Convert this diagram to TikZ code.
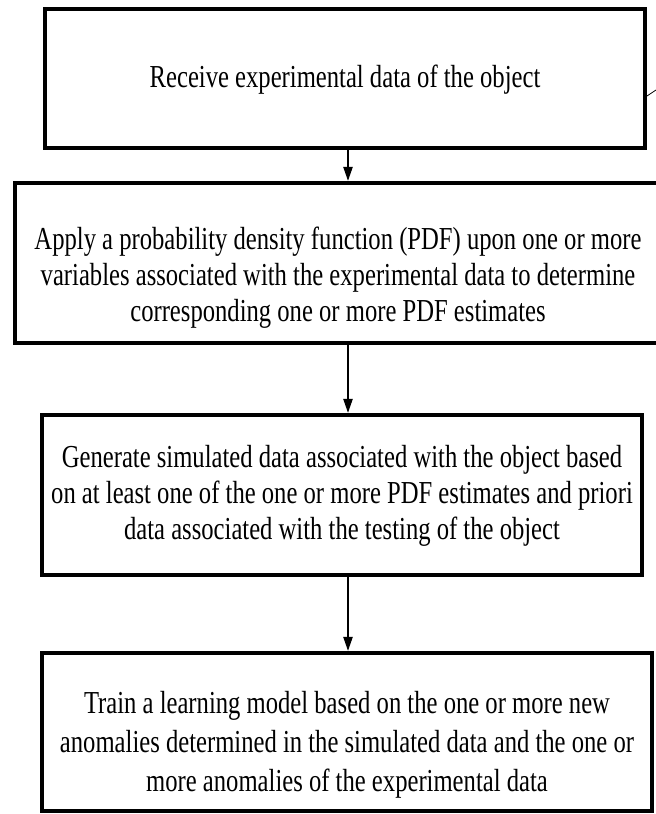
\documentclass[tikz,border=0pt]{standalone}
\usepackage{fontspec}
\setmainfont[FakeStretch=0.77]{Liberation Serif}
\usetikzlibrary{arrows.meta}
\begin{document}
\begin{tikzpicture}[x=1pt,y=-1pt,
  stepbox/.style={draw=black, line width=4.5pt, rectangle, inner sep=0pt},
  steptext/.style={align=center, font=\fontsize{32}{36}\selectfont, inner sep=0pt},
  flow/.style={draw=black, line width=1.1pt, -{Triangle[width=9.5pt,length=14pt]}}]
\useasboundingbox (0,0) rectangle (656,814);
\begin{scope}
\clip (0,0) rectangle (656,814);
\node[stepbox, minimum width=600pt, minimum height=139pt] (b1) at (345,78.5) {};
\node[stepbox, minimum width=645pt, minimum height=160pt] (b2) at (337.5,263) {};
\node[stepbox, minimum width=600pt, minimum height=160pt] (b3) at (342,495) {};
\node[stepbox, minimum width=610pt, minimum height=158pt] (b4) at (347,732) {};
\end{scope}
\node[steptext] (t1) at (345,80) {Receive experimental data of the object};
\node[steptext] (t2) at (338,278) {Apply a probability density function (PDF) upon one or more\\variables associated with the experimental data to determine\\corresponding one or more PDF estimates};
\node[steptext] (t3) at (342,496) {Generate simulated data associated with the object based\\on at least one of the one or more PDF estimates and priori\\data associated with the testing of the object};
\node[steptext, font=\fontsize{32}{39}\selectfont] (t4) at (347,745) {Train a learning model based on the one or more new\\anomalies determined in the simulated data and the one or\\more anomalies of the experimental data};
\draw[flow] (b1.south -| 348,0) -- (b2.north -| 348,0);
\draw[flow] (b2.south -| 348,0) -- (b3.north -| 348,0);
\draw[flow] (b3.south -| 348,0) -- (b4.north -| 348,0);
\coordinate (m1) at (647,96);
\coordinate (m2) at (656,90);
\draw[line width=0.8pt] (m1) -- (m2);
\end{tikzpicture}
\end{document}
